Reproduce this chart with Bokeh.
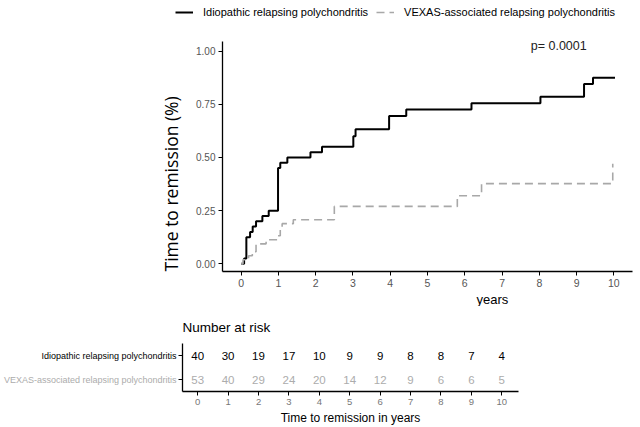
from bokeh.plotting import figure
from bokeh.models import Legend, LegendItem, Label, FixedTicker, Range1d, ColumnDataSource, Title
from bokeh.layouts import row
from bokeh.embed import file_html
from bokeh.resources import INLINE
from bokeh.core.properties import value

# ---------------- data ----------------
groups = ["Idiopathic relapsing polychondritis",
          "VEXAS-associated relapsing polychondritis"]

idio_t = [0, 0.08, 0.14, 0.24, 0.31, 0.40, 0.57, 0.74, 0.99, 1.05, 1.24, 1.86, 2.17,
          3.01, 3.07, 3.97, 4.43, 6.18, 8.03, 9.20, 9.44, 10.03]
idio_y = [0, 0.025, 0.125, 0.15, 0.175, 0.20, 0.225, 0.25, 0.45, 0.475, 0.50, 0.525, 0.55,
          0.60, 0.633, 0.695, 0.725, 0.755, 0.785, 0.845, 0.875, 0.875]

vexas_t = [0, 0.05, 0.20, 0.30, 0.40, 0.67, 0.97, 1.05, 1.10, 1.40, 2.50, 5.80, 6.45, 9.97]
vexas_y = [0, 0.019, 0.038, 0.057, 0.094, 0.113, 0.132, 0.170, 0.189, 0.207, 0.270, 0.320,
           0.377, 0.470]

risk_times = [0, 1, 2, 3, 4, 5, 6, 7, 8, 9, 10]
idio_risk = [40, 30, 19, 17, 10, 9, 9, 8, 8, 7, 4]
vexas_risk = [53, 40, 29, 24, 20, 14, 12, 9, 6, 6, 5]
risk_rows = [2, 1]  # table row positions of groups[0], groups[1]

x_ticks = [0, 1, 2, 3, 4, 5, 6, 7, 8, 9, 10]
y_ticks = [0, 0.25, 0.5, 0.75, 1.0]
y_tick_labels = ["0.00", "0.25", "0.50", "0.75", "1.00"]

p_value_text = "p= 0.0001"
y_title = "Time to remission (%)"
main_x_title = "years"
table_title = "Number at risk"
table_x_title = "Time to remission in years"

# ---------------- style ----------------
FONT = "Liberation Sans"
BLACK = "#000000"
GREY_LINE = "#a8a8a8"
GREY_TEXT = "#acacac"
TICK_TEXT = "#555555"
IDIO_STYLE = dict(line_color=BLACK, line_width=2)
VEXAS_STYLE = dict(line_color=GREY_LINE, line_width=1.6, line_dash="8 5")
NAN = float("nan")


def bare(fig):
    fig.axis.visible = False
    fig.xgrid.visible = False
    fig.ygrid.visible = False
    fig.outline_line_color = None


def style_axes(fig):
    fig.outline_line_color = None
    fig.xgrid.visible = False
    fig.ygrid.visible = False
    for ax in (fig.xaxis[0], fig.yaxis[0]):
        ax.axis_line_color = BLACK
        ax.axis_line_width = 1.3
        ax.major_tick_line_color = BLACK
        ax.major_tick_line_width = 1
        ax.major_tick_out = 4
        ax.major_tick_in = 0
        ax.minor_tick_line_color = None
        ax.major_label_text_font = FONT
        ax.major_label_text_color = TICK_TEXT
        ax.major_label_standoff = 3


# ---------------- legend strip ----------------
leg = figure(width=640, height=30, x_range=Range1d(0, 640), y_range=Range1d(0, 30),
             output_backend="svg", toolbar_location=None,
             min_border_left=0, min_border_right=0, min_border_top=0, min_border_bottom=0)
bare(leg)
# legend keys only (no visible data in this strip)
k_idio = leg.line(x=[NAN], y=[NAN], **IDIO_STYLE)
k_vexas = leg.line(x=[NAN], y=[NAN], **VEXAS_STYLE)
leg.add_layout(Legend(items=[LegendItem(label=groups[0], renderers=[k_idio]),
                             LegendItem(label=groups[1], renderers=[k_vexas])],
                      orientation="horizontal", location=(175, 11),
                      padding=0, margin=0, spacing=8,
                      glyph_width=18, glyph_height=14, label_height=14, label_standoff=10,
                      label_text_font=FONT, label_text_font_size="11px",
                      label_text_color=BLACK,
                      border_line_color=None, background_fill_alpha=0))

# ---------------- main KM plot ----------------
y_lo, y_axis_hi, y_frame_hi = -0.036, 1.045, 1.0967
p = figure(width=640, height=276,
           x_range=Range1d(-0.5, 10.5), y_range=Range1d(y_lo, y_frame_hi),
           output_backend="svg", toolbar_location=None,
           min_border_left=222, min_border_right=8,
           min_border_top=0, min_border_bottom=35)
style_axes(p)
p.xaxis[0].ticker = FixedTicker(ticks=x_ticks, minor_ticks=[])
p.yaxis[0].ticker = FixedTicker(ticks=y_ticks, minor_ticks=[])
p.yaxis[0].bounds = (y_lo, y_axis_hi)
p.yaxis[0].major_label_overrides = {t: l for t, l in zip(y_ticks, y_tick_labels)}
p.xaxis[0].major_label_text_font_size = "10.5px"
p.yaxis[0].major_label_text_font_size = "10px"

p.step(idio_t, idio_y, mode="after", **IDIO_STYLE)
p.step(vexas_t, vexas_y, mode="after", **VEXAS_STYLE)

p.add_layout(Label(x=7.77, y=1.026, text=p_value_text, text_font=FONT,
                   text_font_size="12.5px", text_color="#222222",
                   text_align="left", text_baseline="middle"))
p.add_layout(Title(text=y_title, align="left", offset=0, standoff=21,
                   text_font="Open Sans", text_font_size="17.5px",
                   text_font_style="normal", text_color=BLACK), "left")
p.add_layout(Title(text=main_x_title, align="left", offset=254, standoff=0,
                   text_font=FONT, text_font_size="13px",
                   text_font_style="normal", text_color=BLACK), "below")

# ---------------- risk table: row labels ----------------
lab = figure(width=178, height=121, x_range=Range1d(0, 178), y_range=Range1d(0.5, 2.5),
             output_backend="svg", toolbar_location=None,
             min_border_left=0, min_border_right=0, min_border_top=37, min_border_bottom=36)
bare(lab)
lab_src = ColumnDataSource(dict(x=[176, 176], y=risk_rows, txt=groups,
                                color=[BLACK, GREY_TEXT]))
lab.text(x="x", y="y", text="txt", source=lab_src, text_color="color",
         text_font=value(FONT), text_font_size="9px", text_align="right",
         text_baseline="middle")

# ---------------- risk table: numbers ----------------
t = figure(width=462, height=121,
           x_range=Range1d(-0.5, 10.55), y_range=Range1d(0.5, 2.5),
           output_backend="svg", toolbar_location=None,
           min_border_left=4, min_border_right=122,
           min_border_top=37, min_border_bottom=36)
style_axes(t)
t.title.text = table_title
t.title.align = "left"
t.title.standoff = 17
t.title.text_font = FONT
t.title.text_font_size = "13.5px"
t.title.text_font_style = "normal"
t.title.text_color = BLACK
t.xaxis[0].ticker = FixedTicker(ticks=x_ticks, minor_ticks=[])
t.yaxis[0].ticker = FixedTicker(ticks=risk_rows, minor_ticks=[])
t.yaxis[0].major_label_overrides = {1: "", 2: ""}
t.yaxis[0].major_label_standoff = 0
t.xaxis[0].major_label_text_font_size = "9.5px"
t.xaxis[0].major_label_text_color = "#777777"
t.xaxis[0].major_label_standoff = 3
t.xaxis[0].axis_label = table_x_title
t.xaxis[0].axis_label_text_font = FONT
t.xaxis[0].axis_label_text_font_size = "12px"
t.xaxis[0].axis_label_text_font_style = "normal"
t.xaxis[0].axis_label_text_color = BLACK
t.xaxis[0].axis_label_standoff = 3

src_idio = ColumnDataSource(dict(x=risk_times, y=[risk_rows[0]] * len(risk_times),
                                 txt=[str(v) for v in idio_risk]))
src_vexas = ColumnDataSource(dict(x=risk_times, y=[risk_rows[1]] * len(risk_times),
                                  txt=[str(v) for v in vexas_risk]))
t.text(x="x", y="y", text="txt", source=src_idio, text_font=value(FONT),
       text_font_size="11.5px", text_color=BLACK, text_align="center",
       text_baseline="middle")
t.text(x="x", y="y", text="txt", source=src_vexas, text_font=value(FONT),
       text_font_size="11.5px", text_color=GREY_TEXT, text_align="center",
       text_baseline="middle")

open("out.html", "w").write(file_html([leg, p, row(lab, t, spacing=0)], INLINE))
